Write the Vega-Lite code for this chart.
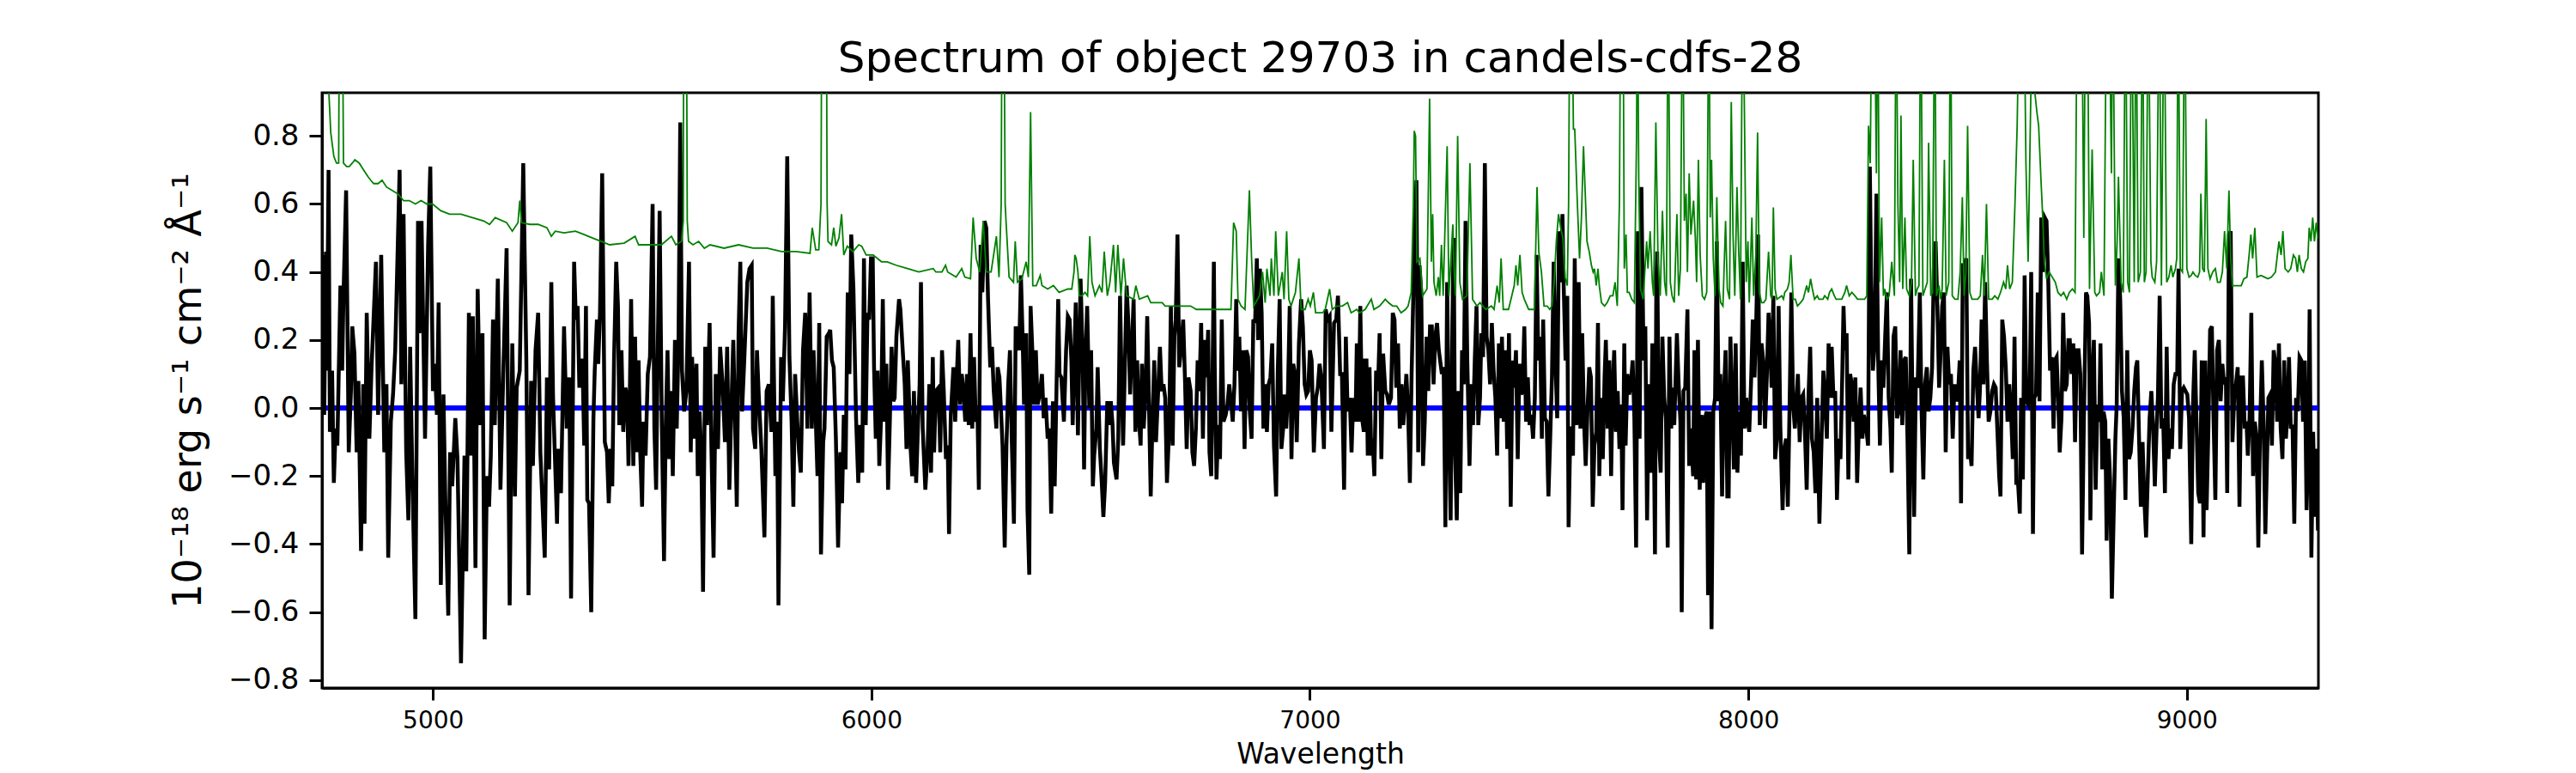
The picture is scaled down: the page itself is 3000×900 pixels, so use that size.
{
  "$schema": "https://vega.github.io/schema/vega-lite/v6.json",
  "width": 2325,
  "height": 693,
  "autosize": {"type": "none"},
  "padding": {"left": 375, "top": 108, "right": 300, "bottom": 99},
  "background": "white",
  "title": {"text": "Spectrum of object 29703 in candels-cdfs-28", "fontSize": 50, "fontWeight": "normal", "font": "DejaVu Sans", "color": "black", "anchor": "middle", "frame": "group", "offset": 14},
  "datasets": {
    "model": [{"w": 4740, "f": 0}, {"w": 9310, "f": 0}],
    "flux": [
      {"w":4749,"f":0.45},{"w":4752,"f":-0.02},{"w":4756,"f":0.46},{"w":4758,"f":0.11},{"w":4762,"f":0.70},{"w":4765,"f":-0.07},{"w":4770,"f":0.11},{"w":4774,"f":-0.22},{"w":4778,"f":-0.06},{"w":4782,"f":-0.11},{"w":4789,"f":0.36},{"w":4793,"f":0.11},{"w":4796,"f":0.33},{"w":4802,"f":0.64},{"w":4808,"f":-0.13},{"w":4813,"f":0.05},{"w":4816,"f":0.24},{"w":4821,"f":0.16},{"w":4826,"f":-0.13},{"w":4830,"f":0.08},{"w":4836,"f":-0.42},{"w":4841,"f":0.07},{"w":4844,"f":-0.34},{"w":4849,"f":0.28},{"w":4855,"f":-0.09},{"w":4860,"f":0.12},{"w":4870,"f":0.43},{"w":4875,"f":-0.02},{"w":4882,"f":0.45},{"w":4889,"f":-0.13},{"w":4894,"f":0.07},{"w":4898,"f":-0.44},{"w":4904,"f":-0.04},{"w":4909,"f":0.04},{"w":4914,"f":0.17},{"w":4924,"f":0.70},{"w":4928,"f":0.07},{"w":4933,"f":0.57},{"w":4939,"f":-0.13},{"w":4944,"f":-0.33},{"w":4948,"f":0.18},{"w":4953,"f":-0.20},{"w":4960,"f":-0.62},{"w":4966,"f":0.55},{"w":4969,"f":0.22},{"w":4974,"f":0.55},{"w":4982,"f":-0.09},{"w":4989,"f":0.48},{"w":4994,"f":0.71},{"w":5000,"f":0.05},{"w":5004,"f":0.13},{"w":5009,"f":-0.02},{"w":5013,"f":0.31},{"w":5018,"f":-0.52},{"w":5024,"f":0.04},{"w":5028,"f":-0.25},{"w":5035,"f":-0.61},{"w":5039,"f":-0.13},{"w":5044,"f":-0.23},{"w":5051,"f":-0.03},{"w":5056,"f":-0.15},{"w":5064,"f":-0.75},{"w":5072,"f":-0.14},{"w":5076,"f":-0.48},{"w":5082,"f":0.28},{"w":5087,"f":-0.14},{"w":5091,"f":0.27},{"w":5097,"f":-0.47},{"w":5102,"f":0.35},{"w":5108,"f":-0.05},{"w":5113,"f":0.22},{"w":5118,"f":-0.68},{"w":5123,"f":-0.20},{"w":5128,"f":-0.29},{"w":5132,"f":-0.14},{"w":5137,"f":0.26},{"w":5141,"f":-0.05},{"w":5148,"f":0.38},{"w":5154,"f":-0.24},{"w":5161,"f":0.13},{"w":5168,"f":0.47},{"w":5175,"f":-0.58},{"w":5181,"f":0.19},{"w":5187,"f":-0.26},{"w":5191,"f":0.06},{"w":5198,"f":0.11},{"w":5206,"f":0.72},{"w":5213,"f":0.14},{"w":5218,"f":-0.55},{"w":5224,"f":0.08},{"w":5228,"f":-0.17},{"w":5234,"f":0.17},{"w":5240,"f":0.28},{"w":5245,"f":-0.13},{"w":5255,"f":-0.44},{"w":5260,"f":0.09},{"w":5265,"f":-0.18},{"w":5270,"f":0.37},{"w":5274,"f":0.03},{"w":5283,"f":-0.34},{"w":5286,"f":-0.12},{"w":5292,"f":-0.25},{"w":5299,"f":0.24},{"w":5305,"f":-0.06},{"w":5311,"f":0.09},{"w":5315,"f":-0.56},{"w":5322,"f":0.43},
      {"w":5326,"f":0.26},{"w":5330,"f":0.30},{"w":5334,"f":0.06},{"w":5338,"f":0.14},{"w":5341,"f":0.14},{"w":5345,"f":-0.11},{"w":5349,"f":0.30},{"w":5352,"f":-0.27},{"w":5356,"f":-0.28},{"w":5361,"f":-0.60},{"w":5366,"f":-0.03},{"w":5369,"f":0.11},{"w":5374,"f":0.26},{"w":5377,"f":0.13},{"w":5381,"f":0.28},{"w":5386,"f":0.69},{"w":5392,"f":-0.10},{"w":5397,"f":-0.13},{"w":5401,"f":-0.28},{"w":5405,"f":-0.12},{"w":5409,"f":-0.23},{"w":5413,"f":0.14},{"w":5418,"f":0.43},{"w":5422,"f":0.30},{"w":5425,"f":-0.05},{"w":5430,"f":0.17},{"w":5434,"f":-0.07},{"w":5439,"f":0.06},{"w":5443,"f":0.03},{"w":5446,"f":-0.17},{"w":5449,"f":0.04},{"w":5452,"f":0.32},{"w":5457,"f":-0.17},{"w":5461,"f":0.21},{"w":5465,"f":-0.13},{"w":5469,"f":0.14},{"w":5473,"f":-0.14},{"w":5477,"f":-0.29},{"w":5480,"f":-0.04},{"w":5485,"f":-0.14},{"w":5490,"f":0.10},{"w":5495,"f":0.15},{"w":5501,"f":0.60},{"w":5505,"f":-0.06},{"w":5509,"f":-0.24},{"w":5513,"f":0.19},{"w":5517,"f":0.58},{"w":5522,"f":-0.05},{"w":5527,"f":-0.45},{"w":5531,"f":-0.05},{"w":5535,"f":0.17},{"w":5539,"f":-0.15},{"w":5543,"f":0.05},{"w":5547,"f":-0.20},{"w":5552,"f":0.20},{"w":5556,"f":-0.06},{"w":5560,"f":0.19},{"w":5564,"f":0.84},{"w":5568,"f":0.11},{"w":5573,"f":-0.01},{"w":5578,"f":0.05},{"w":5584,"f":0.43},{"w":5588,"f":-0.13},{"w":5591,"f":0.15},{"w":5597,"f":-0.09},{"w":5601,"f":0.13},{"w":5604,"f":-0.20},{"w":5608,"f":-0.01},{"w":5612,"f":-0.13},{"w":5616,"f":-0.54},{"w":5621,"f":0.18},{"w":5625,"f":-0.05},{"w":5631,"f":0.25},{"w":5635,"f":-0.11},{"w":5640,"f":-0.44},{"w":5645,"f":0.10},{"w":5650,"f":-0.12},{"w":5655,"f":0.18},{"w":5661,"f":0.06},{"w":5666,"f":-0.10},{"w":5671,"f":0.18},{"w":5676,"f":-0.24},{"w":5680,"f":-0.03},{"w":5685,"f":0.20},{"w":5689,"f":-0.04},{"w":5693,"f":-0.29},{"w":5697,"f":0.22},{"w":5701,"f":0.43},{"w":5705,"f":-0.01},{"w":5710,"f":0.14},{"w":5717,"f":0.37},{"w":5722,"f":0.41},{"w":5727,"f":0.42},{"w":5730,"f":-0.06},{"w":5735,"f":-0.12},{"w":5739,"f":0.17},{"w":5743,"f":0.04},{"w":5749,"f":-0.12},{"w":5756,"f":-0.38},{"w":5761,"f":0.05},{"w":5766,"f":0.07},{"w":5772,"f":-0.07},{"w":5775,"f":0.33},{"w":5781,"f":-0.20},{"w":5785,"f":-0.04},{"w":5788,"f":-0.58},{"w":5794,"f":0.15},{"w":5798,"f":0.02},{"w":5803,"f":0.24},{"w":5808,"f":0.74},{"w":5813,"f":0.15},{"w":5818,"f":-0.04},{"w":5822,"f":-0.29},{"w":5826,"f":0.10},{"w":5831,"f":-0.04},{"w":5835,"f":-0.13},{"w":5839,"f":-0.19},{"w":5844,"f":0.17},{"w":5849,"f":0.28},{"w":5854,"f":-0.06},{"w":5859,"f":0.34},{"w":5864,"f":-0.06},{"w":5868,"f":0.17},{"w":5873,"f":-0.03},{"w":5877,"f":-0.20},{"w":5881,"f":0.25},{"w":5885,"f":-0.43},
      {"w":5890,"f":-0.10},{"w":5893,"f":-0.06},{"w":5898,"f":0.21},{"w":5903,"f":0.22},{"w":5906,"f":0.23},{"w":5910,"f":0.14},{"w":5914,"f":0.12},{"w":5919,"f":-0.09},{"w":5924,"f":-0.41},{"w":5929,"f":-0.13},{"w":5933,"f":-0.28},{"w":5937,"f":-0.02},{"w":5941,"f":-0.18},{"w":5946,"f":0.34},{"w":5950,"f":0.10},{"w":5954,"f":0.51},{"w":5959,"f":0.35},{"w":5965,"f":-0.03},{"w":5970,"f":-0.22},{"w":5974,"f":-0.05},{"w":5979,"f":-0.19},{"w":5983,"f":0.44},{"w":5987,"f":-0.05},{"w":5991,"f":0.28},{"w":5995,"f":0.26},{"w":5999,"f":0.44},{"w":6003,"f":0.44},{"w":6006,"f":0.12},{"w":6010,"f":-0.09},{"w":6014,"f":0.11},{"w":6018,"f":-0.17},{"w":6022,"f":-0.03},{"w":6026,"f":0.32},{"w":6030,"f":-0.04},{"w":6034,"f":0.13},{"w":6038,"f":-0.24},{"w":6042,"f":-0.04},{"w":6046,"f":0.18},{"w":6050,"f":0.02},{"w":6053,"f":0.03},{"w":6057,"f":0.21},{"w":6063,"f":0.32},{"w":6066,"f":0.29},{"w":6070,"f":0.20},{"w":6076,"f":0.07},{"w":6080,"f":-0.12},{"w":6083,"f":0.14},{"w":6089,"f":-0.11},{"w":6093,"f":-0.20},{"w":6097,"f":0.05},{"w":6102,"f":-0.22},{"w":6106,"f":-0.06},{"w":6110,"f":0.07},{"w":6113,"f":0.37},{"w":6117,"f":-0.06},{"w":6123,"f":-0.24},{"w":6128,"f":-0.13},{"w":6132,"f":0.07},{"w":6136,"f":-0.19},{"w":6140,"f":0.15},{"w":6143,"f":-0.13},{"w":6147,"f":0.05},{"w":6153,"f":0.06},{"w":6157,"f":-0.13},{"w":6161,"f":0.17},{"w":6165,"f":0.05},{"w":6170,"f":-0.15},{"w":6174,"f":-0.11},{"w":6177,"f":-0.37},{"w":6181,"f":-0.02},{"w":6187,"f":0.12},{"w":6191,"f":-0.04},{"w":6194,"f":0.07},{"w":6198,"f":0.20},{"w":6202,"f":0.01},{"w":6206,"f":0.10},{"w":6210,"f":0.05},{"w":6214,"f":-0.04},{"w":6218,"f":0.10},{"w":6222,"f":-0.05},{"w":6226,"f":0.22},{"w":6230,"f":-0.06},{"w":6234,"f":0.15},{"w":6238,"f":-0.04},{"w":6242,"f":-0.02},{"w":6245,"f":-0.24},{"w":6249,"f":0.48},{"w":6253,"f":0.34},{"w":6258,"f":0.55},{"w":6262,"f":0.53},{"w":6266,"f":0.32},{"w":6271,"f":0.12},{"w":6275,"f":0.18},{"w":6279,"f":0.05},{"w":6285,"f":-0.06},{"w":6288,"f":0.12},{"w":6292,"f":0.09},{"w":6296,"f":-0.02},{"w":6299,"f":-0.11},{"w":6304,"f":-0.41},{"w":6308,"f":-0.11},{"w":6312,"f":0.07},{"w":6316,"f":0.17},{"w":6320,"f":-0.09},{"w":6325,"f":-0.34},{"w":6329,"f":0.24},{"w":6333,"f":0.20},{"w":6337,"f":0.17},{"w":6341,"f":0.39},{"w":6345,"f":0.20},{"w":6348,"f":0.01},{"w":6353,"f":0.22},{"w":6356,"f":-0.30},{"w":6360,"f":-0.49},{"w":6363,"f":0.30},{"w":6367,"f":0.17},{"w":6371,"f":0.01},{"w":6375,"f":0.17},{"w":6379,"f":0.01},{"w":6384,"f":0.04},{"w":6389,"f":0.10},{"w":6393,"f":-0.03},{"w":6397,"f":0.03},{"w":6402,"f":-0.09},{"w":6406,"f":-0.06},{"w":6410,"f":-0.31},{"w":6414,"f":0.02},{"w":6418,"f":-0.23},{"w":6422,"f":0.05},{"w":6426,"f":0.32},{"w":6429,"f":0.10},{"w":6433,"f":0.09},{"w":6439,"f":-0.04},{"w":6444,"f":0.17},{"w":6448,"f":0.27},{"w":6452,"f":0.26},{"w":6456,"f":0.14},{"w":6459,"f":-0.05},
      {"w":6466,"f":0.31},{"w":6471,"f":-0.08},{"w":6477,"f":0.38},{"w":6482,"f":0.14},{"w":6485,"f":-0.18},{"w":6488,"f":0.14},{"w":6492,"f":0.30},{"w":6497,"f":0.00},{"w":6501,"f":0.17},{"w":6505,"f":-0.23},{"w":6508,"f":-0.14},{"w":6513,"f":-0.06},{"w":6516,"f":0.12},{"w":6521,"f":-0.12},{"w":6525,"f":-0.21},{"w":6529,"f":-0.32},{"w":6533,"f":-0.22},{"w":6538,"f":0.02},{"w":6542,"f":-0.05},{"w":6546,"f":0.02},{"w":6550,"f":-0.05},{"w":6553,"f":-0.16},{"w":6559,"f":-0.21},{"w":6563,"f":-0.09},{"w":6567,"f":0.33},{"w":6570,"f":0.12},{"w":6574,"f":-0.11},{"w":6578,"f":0.12},{"w":6582,"f":0.36},{"w":6586,"f":0.25},{"w":6590,"f":0.04},{"w":6594,"f":0.18},{"w":6598,"f":0.32},{"w":6602,"f":-0.07},{"w":6606,"f":0.14},{"w":6610,"f":-0.03},{"w":6614,"f":-0.11},{"w":6617,"f":0.13},{"w":6621,"f":-0.06},{"w":6625,"f":0.04},{"w":6629,"f":0.27},{"w":6633,"f":0.01},{"w":6637,"f":-0.26},{"w":6641,"f":-0.04},{"w":6645,"f":0.14},{"w":6649,"f":-0.10},{"w":6654,"f":0.05},{"w":6658,"f":0.18},{"w":6662,"f":0.05},{"w":6666,"f":0.07},{"w":6670,"f":0.03},{"w":6674,"f":-0.22},{"w":6679,"f":-0.06},{"w":6683,"f":0.30},{"w":6687,"f":-0.11},{"w":6691,"f":0.21},{"w":6694,"f":0.26},{"w":6698,"f":0.51},{"w":6702,"f":0.12},{"w":6706,"f":0.17},{"w":6711,"f":0.26},{"w":6715,"f":0.09},{"w":6719,"f":-0.12},{"w":6723,"f":0.09},{"w":6728,"f":0.05},{"w":6732,"f":-0.13},{"w":6736,"f":-0.17},{"w":6740,"f":-0.06},{"w":6744,"f":0.14},{"w":6748,"f":0.05},{"w":6752,"f":0.25},{"w":6756,"f":-0.09},{"w":6760,"f":0.20},{"w":6764,"f":0.09},{"w":6768,"f":0.23},{"w":6771,"f":-0.13},{"w":6775,"f":-0.20},{"w":6778,"f":0.10},{"w":6781,"f":0.43},{"w":6783,"f":0.12},{"w":6787,"f":-0.21},{"w":6791,"f":-0.05},{"w":6795,"f":-0.15},{"w":6799,"f":0.26},{"w":6803,"f":-0.04},{"w":6808,"f":-0.02},{"w":6812,"f":0.01},{"w":6816,"f":0.07},{"w":6820,"f":0.02},{"w":6824,"f":-0.04},{"w":6828,"f":0.07},{"w":6832,"f":0.32},{"w":6835,"f":0.11},{"w":6839,"f":0.21},{"w":6843,"f":-0.01},{"w":6847,"f":0.17},{"w":6851,"f":-0.12},{"w":6855,"f":0.17},{"w":6859,"f":0.15},{"w":6863,"f":-0.01},{"w":6867,"f":-0.09},{"w":6871,"f":0.26},{"w":6875,"f":0.25},{"w":6879,"f":0.44},{"w":6882,"f":0.20},{"w":6886,"f":0.41},{"w":6890,"f":0.28},{"w":6894,"f":-0.06},{"w":6898,"f":0.07},{"w":6902,"f":-0.07},{"w":6906,"f":0.07},{"w":6910,"f":0.09},{"w":6914,"f":0.19},{"w":6918,"f":-0.11},{"w":6923,"f":-0.26},{"w":6927,"f":0.12},{"w":6931,"f":0.32},{"w":6935,"f":-0.12},{"w":6939,"f":-0.06},{"w":6942,"f":0.04},{"w":6946,"f":-0.06},{"w":6950,"f":0.05},{"w":6954,"f":0.30},{"w":6958,"f":-0.15},{"w":6962,"f":0.13},{"w":6966,"f":0.10},{"w":6970,"f":-0.10},{"w":6975,"f":0.19},{"w":6980,"f":0.32},{"w":6984,"f":0.24},{"w":6988,"f":0.07},{"w":6992,"f":0.04},{"w":6996,"f":0.05},{"w":7000,"f":0.17},{"w":7004,"f":0.14},{"w":7009,"f":-0.13},{"w":7014,"f":0.03},{"w":7018,"f":0.06},{"w":7022,"f":0.13},{"w":7026,"f":0.09},
      {"w":7032,"f":-0.12},{"w":7036,"f":0.29},{"w":7040,"f":0.26},{"w":7045,"f":0.27},{"w":7049,"f":-0.07},{"w":7055,"f":0.25},{"w":7060,"f":0.26},{"w":7064,"f":0.33},{"w":7069,"f":0.10},{"w":7073,"f":0.10},{"w":7078,"f":-0.24},{"w":7082,"f":0.21},{"w":7086,"f":-0.01},{"w":7091,"f":0.03},{"w":7095,"f":-0.13},{"w":7099,"f":0.03},{"w":7104,"f":-0.04},{"w":7107,"f":0.19},{"w":7111,"f":-0.04},{"w":7115,"f":0.30},{"w":7119,"f":-0.03},{"w":7123,"f":-0.07},{"w":7125,"f":0.14},{"w":7129,"f":0.14},{"w":7132,"f":-0.14},{"w":7136,"f":0.12},{"w":7140,"f":-0.14},{"w":7143,"f":-0.09},{"w":7147,"f":-0.20},{"w":7151,"f":0.11},{"w":7155,"f":0.05},{"w":7159,"f":0.22},{"w":7163,"f":-0.15},{"w":7167,"f":0.16},{"w":7172,"f":0.05},{"w":7176,"f":0.04},{"w":7180,"f":0.01},{"w":7185,"f":0.03},{"w":7189,"f":0.28},{"w":7193,"f":0.26},{"w":7197,"f":0.06},{"w":7201,"f":0.19},{"w":7205,"f":-0.06},{"w":7209,"f":0.07},{"w":7213,"f":-0.05},{"w":7217,"f":0.03},{"w":7220,"f":0.10},{"w":7224,"f":-0.01},{"w":7228,"f":-0.22},{"w":7232,"f":0.10},{"w":7237,"f":0.40},{"w":7243,"f":0.67},{"w":7247,"f":-0.13},{"w":7250,"f":0.42},{"w":7254,"f":0.34},{"w":7258,"f":-0.17},{"w":7262,"f":-0.04},{"w":7266,"f":0.21},{"w":7270,"f":0.05},{"w":7274,"f":0.24},{"w":7278,"f":0.24},{"w":7282,"f":0.07},{"w":7286,"f":0.21},{"w":7290,"f":0.25},{"w":7294,"f":0.17},{"w":7297,"f":0.14},{"w":7301,"f":0.10},{"w":7305,"f":0.12},{"w":7309,"f":-0.35},{"w":7313,"f":0.37},{"w":7317,"f":-0.06},{"w":7321,"f":-0.33},{"w":7325,"f":0.26},{"w":7328,"f":0.50},{"w":7331,"f":-0.13},{"w":7335,"f":-0.33},{"w":7339,"f":0.05},{"w":7343,"f":-0.25},{"w":7347,"f":0.17},{"w":7351,"f":0.07},{"w":7355,"f":0.55},{"w":7359,"f":0.14},{"w":7364,"f":-0.17},{"w":7368,"f":0.07},{"w":7372,"f":-0.05},{"w":7376,"f":0.14},{"w":7380,"f":0.30},{"w":7384,"f":-0.05},{"w":7388,"f":0.03},{"w":7391,"f":0.22},{"w":7395,"f":0.15},{"w":7399,"f":0.72},{"w":7403,"f":0.21},{"w":7407,"f":0.17},{"w":7411,"f":0.07},{"w":7415,"f":0.25},{"w":7419,"f":0.11},{"w":7423,"f":0.03},{"w":7427,"f":-0.14},{"w":7431,"f":0.19},{"w":7435,"f":-0.03},{"w":7438,"f":0.21},{"w":7442,"f":-0.04},{"w":7446,"f":0.17},{"w":7450,"f":-0.12},{"w":7454,"f":0.22},{"w":7458,"f":-0.29},{"w":7462,"f":0.14},{"w":7466,"f":0.06},{"w":7470,"f":0.17},{"w":7474,"f":-0.15},{"w":7478,"f":0.13},{"w":7482,"f":0.04},{"w":7485,"f":0.05},{"w":7489,"f":0.24},{"w":7493,"f":-0.04},{"w":7497,"f":0.09},{"w":7501,"f":-0.05},{"w":7505,"f":-0.02},{"w":7509,"f":-0.09},{"w":7513,"f":0.03},{"w":7517,"f":0.45},{"w":7521,"f":0.14},{"w":7525,"f":0.21},{"w":7529,"f":-0.09},{"w":7532,"f":0.26},{"w":7536,"f":-0.03},{"w":7540,"f":-0.04},{"w":7544,"f":-0.26},{"w":7548,"f":-0.09},{"w":7552,"f":0.09},{"w":7556,"f":0.43},{"w":7560,"f":0.14},{"w":7564,"f":-0.03},{"w":7568,"f":0.52},{"w":7572,"f":0.37},{"w":7576,"f":0.57},{"w":7579,"f":0.35},{"w":7583,"f":0.14},{"w":7587,"f":0.33},{"w":7590,"f":-0.35},{"w":7594,"f":-0.06},
      {"w":7597,"f":-0.06},{"w":7600,"f":-0.14},{"w":7604,"f":0.44},{"w":7608,"f":-0.05},{"w":7613,"f":0.37},{"w":7617,"f":-0.06},{"w":7621,"f":0.22},{"w":7625,"f":-0.03},{"w":7629,"f":-0.17},{"w":7633,"f":-0.01},{"w":7637,"f":0.12},{"w":7641,"f":0.09},{"w":7645,"f":-0.29},{"w":7649,"f":-0.11},{"w":7653,"f":-0.07},{"w":7657,"f":0.25},{"w":7660,"f":-0.20},{"w":7664,"f":0.03},{"w":7668,"f":-0.15},{"w":7672,"f":0.09},{"w":7675,"f":0.20},{"w":7679,"f":-0.06},{"w":7683,"f":0.14},{"w":7687,"f":-0.20},{"w":7690,"f":0.03},{"w":7694,"f":0.17},{"w":7698,"f":-0.07},{"w":7702,"f":0.05},{"w":7706,"f":-0.12},{"w":7710,"f":0.01},{"w":7713,"f":-0.30},{"w":7717,"f":0.19},{"w":7720,"f":-0.11},{"w":7724,"f":0.10},{"w":7728,"f":0.04},{"w":7732,"f":0.07},{"w":7736,"f":0.14},{"w":7740,"f":-0.03},{"w":7744,"f":-0.41},{"w":7748,"f":0.52},{"w":7752,"f":-0.09},{"w":7756,"f":0.65},{"w":7761,"f":0.14},{"w":7765,"f":0.24},{"w":7769,"f":-0.33},{"w":7773,"f":0.07},{"w":7777,"f":-0.19},{"w":7781,"f":0.19},{"w":7784,"f":-0.02},{"w":7787,"f":-0.43},{"w":7790,"f":0.36},{"w":7792,"f":0.46},{"w":7796,"f":-0.09},{"w":7800,"f":-0.19},{"w":7804,"f":0.21},{"w":7808,"f":0.03},{"w":7812,"f":-0.03},{"w":7816,"f":-0.41},{"w":7820,"f":0.21},{"w":7824,"f":-0.06},{"w":7828,"f":0.06},{"w":7831,"f":-0.05},{"w":7837,"f":0.22},{"w":7841,"f":0.07},{"w":7845,"f":-0.04},{"w":7848,"f":-0.60},{"w":7852,"f":0.05},{"w":7856,"f":0.06},{"w":7861,"f":0.29},{"w":7865,"f":-0.17},{"w":7869,"f":-0.06},{"w":7874,"f":-0.20},{"w":7877,"f":0.17},{"w":7881,"f":-0.21},{"w":7885,"f":0.20},{"w":7889,"f":-0.24},{"w":7893,"f":-0.02},{"w":7897,"f":-0.22},{"w":7901,"f":-0.03},{"w":7905,"f":-0.01},{"w":7908,"f":-0.55},{"w":7912,"f":-0.01},{"w":7916,"f":-0.65},{"w":7920,"f":-0.01},{"w":7924,"f":0.03},{"w":7928,"f":0.49},{"w":7932,"f":0.02},{"w":7936,"f":0.10},{"w":7940,"f":-0.26},{"w":7944,"f":0.03},{"w":7948,"f":0.17},{"w":7952,"f":-0.26},{"w":7955,"f":-0.26},{"w":7959,"f":0.21},{"w":7963,"f":0.02},{"w":7967,"f":-0.18},{"w":7971,"f":0.19},{"w":7975,"f":-0.19},{"w":7979,"f":-0.01},{"w":7983,"f":-0.14},{"w":7987,"f":0.43},{"w":7991,"f":-0.06},{"w":7995,"f":0.03},{"w":7999,"f":-0.04},{"w":8002,"f":-0.07},{"w":8006,"f":0.07},{"w":8010,"f":0.26},{"w":8014,"f":0.09},{"w":8018,"f":0.26},{"w":8022,"f":0.51},{"w":8026,"f":-0.05},{"w":8030,"f":0.19},{"w":8034,"f":0.14},{"w":8038,"f":-0.06},{"w":8042,"f":0.09},{"w":8046,"f":0.28},{"w":8049,"f":0.21},{"w":8053,"f":0.06},{"w":8057,"f":0.33},{"w":8061,"f":-0.15},{"w":8065,"f":-0.09},{"w":8069,"f":0.30},{"w":8073,"f":-0.06},{"w":8078,"f":-0.30},{"w":8082,"f":-0.12},{"w":8086,"f":-0.09},{"w":8090,"f":-0.29},{"w":8094,"f":0.01},{"w":8098,"f":0.34},{"w":8102,"f":0.01},{"w":8106,"f":-0.06},{"w":8110,"f":0.03},{"w":8113,"f":0.10},{"w":8117,"f":-0.10},{"w":8121,"f":0.03},{"w":8125,"f":0.04},{"w":8129,"f":-0.07},{"w":8133,"f":-0.24},{"w":8137,"f":0.03},{"w":8141,"f":0.18},{"w":8145,"f":-0.09},{"w":8149,"f":-0.13},{"w":8153,"f":-0.25},{"w":8157,"f":0.03},{"w":8162,"f":-0.34},
      {"w":8167,"f":-0.09},{"w":8171,"f":0.11},{"w":8175,"f":0.03},{"w":8179,"f":-0.09},{"w":8183,"f":0.19},{"w":8186,"f":0.03},{"w":8190,"f":0.18},{"w":8194,"f":0.03},{"w":8198,"f":0.05},{"w":8202,"f":-0.27},{"w":8206,"f":-0.09},{"w":8210,"f":-0.15},{"w":8214,"f":0.09},{"w":8217,"f":0.30},{"w":8220,"f":0.17},{"w":8224,"f":0.22},{"w":8228,"f":-0.21},{"w":8232,"f":0.10},{"w":8236,"f":0.07},{"w":8240,"f":-0.04},{"w":8244,"f":0.09},{"w":8248,"f":-0.22},{"w":8252,"f":-0.05},{"w":8256,"f":0.06},{"w":8260,"f":-0.09},{"w":8263,"f":-0.02},{"w":8267,"f":-0.04},{"w":8273,"f":-0.11},{"w":8277,"f":0.71},{"w":8280,"f":0.37},{"w":8284,"f":0.11},{"w":8288,"f":0.19},{"w":8292,"f":0.63},{"w":8296,"f":0.14},{"w":8300,"f":-0.11},{"w":8304,"f":0.14},{"w":8308,"f":0.06},{"w":8312,"f":0.21},{"w":8316,"f":0.34},{"w":8320,"f":0.03},{"w":8324,"f":-0.06},{"w":8327,"f":-0.19},{"w":8331,"f":0.21},{"w":8335,"f":0.24},{"w":8339,"f":-0.03},{"w":8343,"f":-0.01},{"w":8347,"f":0.17},{"w":8351,"f":-0.05},{"w":8355,"f":0.14},{"w":8359,"f":0.15},{"w":8363,"f":-0.10},{"w":8367,"f":-0.43},{"w":8371,"f":0.38},{"w":8374,"f":0.03},{"w":8378,"f":-0.32},{"w":8382,"f":0.09},{"w":8386,"f":0.06},{"w":8391,"f":0.34},{"w":8395,"f":-0.01},{"w":8399,"f":-0.21},{"w":8403,"f":0.07},{"w":8407,"f":0.12},{"w":8411,"f":-0.01},{"w":8415,"f":0.03},{"w":8419,"f":0.12},{"w":8423,"f":0.41},{"w":8427,"f":0.49},{"w":8431,"f":0.30},{"w":8435,"f":0.06},{"w":8438,"f":0.15},{"w":8442,"f":0.30},{"w":8446,"f":0.34},{"w":8450,"f":-0.13},{"w":8454,"f":0.18},{"w":8458,"f":0.07},{"w":8462,"f":0.10},{"w":8466,"f":-0.09},{"w":8470,"f":0.07},{"w":8474,"f":0.02},{"w":8478,"f":0.04},{"w":8482,"f":0.14},{"w":8485,"f":-0.28},{"w":8489,"f":0.42},{"w":8493,"f":0.42},{"w":8497,"f":0.44},{"w":8501,"f":-0.15},{"w":8505,"f":-0.12},{"w":8509,"f":-0.17},{"w":8513,"f":0.11},{"w":8517,"f":0.18},{"w":8521,"f":0.07},{"w":8525,"f":-0.03},{"w":8528,"f":0.05},{"w":8532,"f":0.26},{"w":8536,"f":0.07},{"w":8540,"f":0.37},{"w":8544,"f":0.14},{"w":8548,"f":-0.04},{"w":8552,"f":-0.01},{"w":8556,"f":0.05},{"w":8560,"f":0.07},{"w":8564,"f":0.06},{"w":8568,"f":-0.07},{"w":8572,"f":-0.20},{"w":8575,"f":-0.26},{"w":8579,"f":0.26},{"w":8583,"f":0.21},{"w":8587,"f":0.12},{"w":8591,"f":-0.04},{"w":8595,"f":0.07},{"w":8599,"f":-0.01},{"w":8603,"f":-0.15},{"w":8607,"f":0.21},{"w":8611,"f":-0.22},{"w":8615,"f":-0.22},{"w":8619,"f":-0.31},{"w":8622,"f":0.03},{"w":8626,"f":-0.21},{"w":8630,"f":0.39},{"w":8634,"f":0.02},{"w":8638,"f":0.01},{"w":8642,"f":0.07},{"w":8645,"f":0.40},{"w":8649,"f":-0.37},{"w":8652,"f":0.03},{"w":8656,"f":0.04},{"w":8660,"f":0.34},{"w":8664,"f":0.02},{"w":8668,"f":0.56},{"w":8672,"f":0.40},{"w":8676,"f":0.56},{"w":8680,"f":0.55},{"w":8684,"f":0.37},{"w":8688,"f":0.11},{"w":8692,"f":0.15},{"w":8696,"f":-0.06},{"w":8699,"f":0.14},{"w":8703,"f":0.15},{"w":8707,"f":0.01},{"w":8710,"f":-0.13},{"w":8714,"f":-0.03},{"w":8718,"f":0.28},{"w":8722,"f":0.05},{"w":8726,"f":0.07},{"w":8730,"f":0.20},
      {"w":8733,"f":0.20},{"w":8737,"f":0.10},{"w":8741,"f":0.19},{"w":8745,"f":-0.10},{"w":8749,"f":0.17},{"w":8753,"f":0.17},{"w":8757,"f":0.10},{"w":8761,"f":-0.43},{"w":8765,"f":-0.05},{"w":8770,"f":0.34},{"w":8773,"f":0.33},{"w":8777,"f":0.25},{"w":8780,"f":-0.33},{"w":8784,"f":0.09},{"w":8788,"f":0.20},{"w":8792,"f":-0.24},{"w":8796,"f":0.01},{"w":8800,"f":-0.04},{"w":8803,"f":0.19},{"w":8807,"f":-0.18},{"w":8810,"f":-0.01},{"w":8814,"f":-0.04},{"w":8817,"f":-0.39},{"w":8821,"f":-0.09},{"w":8825,"f":-0.21},{"w":8829,"f":-0.56},{"w":8833,"f":-0.32},{"w":8837,"f":-0.09},{"w":8840,"f":0.01},{"w":8844,"f":0.44},{"w":8848,"f":0.32},{"w":8852,"f":0.05},{"w":8856,"f":-0.03},{"w":8860,"f":-0.27},{"w":8864,"f":0.17},{"w":8868,"f":-0.15},{"w":8872,"f":-0.13},{"w":8876,"f":-0.06},{"w":8880,"f":0.05},{"w":8884,"f":0.12},{"w":8887,"f":0.14},{"w":8891,"f":-0.09},{"w":8895,"f":-0.29},{"w":8899,"f":-0.10},{"w":8903,"f":-0.27},{"w":8907,"f":-0.38},{"w":8911,"f":-0.20},{"w":8915,"f":-0.03},{"w":8919,"f":0.05},{"w":8923,"f":-0.06},{"w":8927,"f":-0.23},{"w":8931,"f":-0.06},{"w":8934,"f":0.03},{"w":8938,"f":0.33},{"w":8942,"f":-0.06},{"w":8946,"f":-0.03},{"w":8950,"f":-0.25},{"w":8954,"f":0.18},{"w":8958,"f":-0.15},{"w":8962,"f":-0.06},{"w":8966,"f":-0.12},{"w":8970,"f":0.07},{"w":8974,"f":0.10},{"w":8978,"f":0.10},{"w":8981,"f":0.41},{"w":8985,"f":-0.12},{"w":8989,"f":0.05},{"w":8993,"f":0.06},{"w":8997,"f":0.05},{"w":9001,"f":0.04},{"w":9005,"f":-0.03},{"w":9010,"f":-0.40},{"w":9014,"f":0.01},{"w":9018,"f":0.17},{"w":9022,"f":-0.04},{"w":9026,"f":-0.25},{"w":9030,"f":-0.28},{"w":9034,"f":0.14},{"w":9038,"f":-0.38},{"w":9042,"f":0.14},{"w":9045,"f":-0.30},{"w":9049,"f":-0.07},{"w":9053,"f":0.23},{"w":9057,"f":0.24},{"w":9061,"f":-0.04},{"w":9065,"f":-0.27},{"w":9069,"f":0.17},{"w":9073,"f":0.20},{"w":9077,"f":0.02},{"w":9081,"f":0.13},{"w":9085,"f":0.07},{"w":9089,"f":0.09},{"w":9092,"f":-0.25},{"w":9096,"f":0.51},{"w":9100,"f":0.52},{"w":9104,"f":-0.10},{"w":9108,"f":0.03},{"w":9112,"f":0.07},{"w":9116,"f":0.12},{"w":9120,"f":-0.29},{"w":9124,"f":0.09},{"w":9128,"f":0.09},{"w":9132,"f":-0.06},{"w":9136,"f":-0.04},{"w":9139,"f":-0.14},{"w":9143,"f":-0.03},{"w":9147,"f":0.28},{"w":9151,"f":-0.20},{"w":9155,"f":-0.04},{"w":9159,"f":-0.09},{"w":9163,"f":-0.41},{"w":9167,"f":-0.06},{"w":9171,"f":0.14},{"w":9175,"f":-0.04},{"w":9179,"f":-0.37},{"w":9183,"f":-0.14},{"w":9186,"f":0.03},{"w":9190,"f":0.04},{"w":9194,"f":-0.11},{"w":9198,"f":0.17},{"w":9202,"f":0.13},{"w":9206,"f":-0.04},{"w":9210,"f":0.19},{"w":9214,"f":-0.06},{"w":9218,"f":-0.15},{"w":9222,"f":0.14},{"w":9226,"f":-0.09},{"w":9230,"f":0.01},{"w":9233,"f":0.15},{"w":9237,"f":-0.06},{"w":9241,"f":-0.05},{"w":9245,"f":-0.34},{"w":9249,"f":0.03},{"w":9253,"f":-0.01},{"w":9257,"f":0.15},{"w":9261,"f":0.14},{"w":9265,"f":-0.04},{"w":9269,"f":0.14},{"w":9273,"f":-0.30},{"w":9277,"f":-0.11},{"w":9280,"f":0.29},{"w":9284,"f":-0.44},{"w":9288,"f":-0.07},{"w":9292,"f":-0.32},{"w":9296,"f":-0.12},{"w":9299,"f":-0.36}
    ],
    "sky": [
      {"w":4747,"f":1.3},{"w":4760,"f":1.0},{"w":4767,"f":0.81},{"w":4774,"f":0.74},{"w":4780,"f":0.72},{"w":4785,"f":0.72},{"w":4787,"f":1.3},{"w":4793,"f":1.3},{"w":4796,"f":0.72},{"w":4803,"f":0.71},{"w":4809,"f":0.71},{"w":4816,"f":0.72},{"w":4822,"f":0.73},{"w":4832,"f":0.72},{"w":4842,"f":0.70},{"w":4852,"f":0.68},{"w":4858,"f":0.67},{"w":4865,"f":0.66},{"w":4875,"f":0.66},{"w":4884,"f":0.67},{"w":4894,"f":0.65},{"w":4907,"f":0.64},{"w":4920,"f":0.63},{"w":4933,"f":0.61},{"w":4946,"f":0.61},{"w":4960,"f":0.60},{"w":4973,"f":0.61},{"w":4986,"f":0.60},{"w":4999,"f":0.60},{"w":5018,"f":0.58},{"w":5038,"f":0.57},{"w":5064,"f":0.57},{"w":5090,"f":0.56},{"w":5116,"f":0.55},{"w":5129,"f":0.54},{"w":5142,"f":0.56},{"w":5168,"f":0.545},{"w":5181,"f":0.52},{"w":5194,"f":0.545},{"w":5198,"f":0.61},{"w":5202,"f":0.545},{"w":5221,"f":0.54},{"w":5240,"f":0.54},{"w":5260,"f":0.53},{"w":5270,"f":0.505},{"w":5279,"f":0.52},{"w":5299,"f":0.515},{"w":5325,"f":0.52},
      {"w":5345,"f":0.51},{"w":5364,"f":0.50},{"w":5384,"f":0.49},{"w":5403,"f":0.48},{"w":5436,"f":0.485},{"w":5461,"f":0.505},{"w":5469,"f":0.48},{"w":5501,"f":0.48},{"w":5521,"f":0.48},{"w":5544,"f":0.505},{"w":5554,"f":0.48},{"w":5567,"f":0.49},{"w":5571,"f":0.55},{"w":5572,"f":1.3},{"w":5578,"f":1.3},{"w":5580,"f":0.55},{"w":5583,"f":0.49},{"w":5593,"f":0.48},{"w":5606,"f":0.49},{"w":5619,"f":0.47},{"w":5632,"f":0.48},{"w":5664,"f":0.47},{"w":5697,"f":0.48},{"w":5730,"f":0.47},{"w":5762,"f":0.47},{"w":5795,"f":0.46},{"w":5828,"f":0.46},{"w":5860,"f":0.455},{"w":5865,"f":0.53},{"w":5873,"f":0.465},{"w":5880,"f":0.465},{"w":5885,"f":0.6},{"w":5887,"f":1.3},
      {"w":5897,"f":1.3},{"w":5899,"f":0.60},{"w":5901,"f":0.49},{"w":5909,"f":0.48},{"w":5914,"f":0.53},{"w":5919,"f":0.476},{"w":5926,"f":0.50},{"w":5932,"f":0.57},{"w":5937,"f":0.45},{"w":5945,"f":0.476},{"w":5958,"f":0.46},{"w":5971,"f":0.48},{"w":5978,"f":0.476},{"w":5988,"f":0.45},{"w":6004,"f":0.45},{"w":6023,"f":0.43},{"w":6036,"f":0.43},{"w":6056,"f":0.42},{"w":6082,"f":0.41},{"w":6108,"f":0.40},{"w":6141,"f":0.41},{"w":6147,"f":0.40},{"w":6161,"f":0.40},{"w":6169,"f":0.42},{"w":6174,"f":0.40},{"w":6193,"f":0.385},{"w":6206,"f":0.41},{"w":6213,"f":0.385},{"w":6226,"f":0.38},{"w":6232,"f":0.56},{"w":6239,"f":0.44},{"w":6247,"f":0.40},{"w":6255,"f":0.55},{"w":6262,"f":0.40},{"w":6273,"f":0.40},{"w":6285,"f":0.505},{"w":6291,"f":0.385},{"w":6296,"f":0.6},{"w":6298,"f":1.3},{"w":6302,"f":1.3},{"w":6305,"f":0.6},{"w":6307,"f":0.55},{"w":6314,"f":0.385},{"w":6324,"f":0.37},{"w":6328,"f":0.49},{"w":6333,"f":0.37},{"w":6343,"f":0.38},{"w":6353,"f":0.43},{"w":6358,"f":0.385},{"w":6363,"f":0.87},{"w":6368,"f":0.36},{"w":6376,"f":0.36},{"w":6385,"f":0.39},{"w":6389,"f":0.36},{"w":6402,"f":0.35},{"w":6415,"f":0.36},{"w":6428,"f":0.34},{"w":6448,"f":0.35},{"w":6457,"f":0.35},
      {"w":6462,"f":0.40},{"w":6464,"f":0.45},{"w":6467,"f":0.44},{"w":6471,"f":0.40},{"w":6474,"f":0.33},{"w":6480,"f":0.33},{"w":6487,"f":0.34},{"w":6493,"f":0.33},{"w":6498,"f":0.505},{"w":6503,"f":0.37},{"w":6510,"f":0.33},{"w":6520,"f":0.36},{"w":6526,"f":0.34},{"w":6531,"f":0.46},{"w":6538,"f":0.33},{"w":6544,"f":0.37},{"w":6552,"f":0.48},{"w":6557,"f":0.34},{"w":6562,"f":0.48},{"w":6569,"f":0.33},{"w":6575,"f":0.44},{"w":6582,"f":0.33},{"w":6598,"f":0.32},{"w":6603,"f":0.36},{"w":6611,"f":0.32},{"w":6630,"f":0.33},{"w":6637,"f":0.31},{"w":6663,"f":0.31},{"w":6670,"f":0.30},{"w":6689,"f":0.30},{"w":6715,"f":0.30},{"w":6728,"f":0.30},{"w":6741,"f":0.29},{"w":6768,"f":0.29},{"w":6794,"f":0.29},{"w":6820,"f":0.29},{"w":6826,"f":0.545},{"w":6832,"f":0.52},{"w":6836,"f":0.32},{"w":6843,"f":0.30},{"w":6852,"f":0.29},{"w":6862,"f":0.64},{"w":6867,"f":0.44},{"w":6872,"f":0.30},{"w":6885,"f":0.33},{"w":6892,"f":0.40},{"w":6898,"f":0.31},{"w":6902,"f":0.41},{"w":6909,"f":0.33},{"w":6912,"f":0.44},{"w":6918,"f":0.33},{"w":6922,"f":0.52},{"w":6928,"f":0.33},{"w":6937,"f":0.40},{"w":6941,"f":0.32},{"w":6947,"f":0.52},{"w":6952,"f":0.32},{"w":6957,"f":0.30},{"w":6967,"f":0.34},{"w":6975,"f":0.44},{"w":6980,"f":0.29},{"w":6989,"f":0.29},{"w":6996,"f":0.32},{"w":7001,"f":0.30},{"w":7008,"f":0.34},{"w":7013,"f":0.28},{"w":7029,"f":0.28},
      {"w":7035,"f":0.29},{"w":7045,"f":0.35},{"w":7051,"f":0.29},{"w":7061,"f":0.30},{"w":7074,"f":0.30},{"w":7086,"f":0.31},{"w":7094,"f":0.28},{"w":7107,"f":0.29},{"w":7113,"f":0.28},{"w":7126,"f":0.29},{"w":7140,"f":0.32},{"w":7146,"f":0.29},{"w":7159,"f":0.30},{"w":7172,"f":0.32},{"w":7179,"f":0.31},{"w":7189,"f":0.30},{"w":7198,"f":0.30},{"w":7208,"f":0.28},{"w":7218,"f":0.29},{"w":7224,"f":0.30},{"w":7231,"f":0.34},{"w":7236,"f":0.60},{"w":7238,"f":0.815},{"w":7241,"f":0.80},{"w":7244,"f":0.43},{"w":7251,"f":0.44},{"w":7257,"f":0.33},{"w":7267,"f":0.35},{"w":7273,"f":0.91},{"w":7277,"f":0.43},{"w":7280,"f":0.57},{"w":7283,"f":0.37},{"w":7288,"f":0.33},{"w":7293,"f":0.385},{"w":7296,"f":0.33},{"w":7300,"f":0.48},{"w":7304,"f":0.33},{"w":7313,"f":0.77},{"w":7317,"f":0.33},{"w":7326,"f":0.54},{"w":7329,"f":0.40},{"w":7332,"f":0.33},{"w":7337,"f":0.80},{"w":7342,"f":0.37},{"w":7348,"f":0.32},{"w":7358,"f":0.33},{"w":7365,"f":0.72},{"w":7371,"f":0.32},{"w":7381,"f":0.30},{"w":7388,"f":0.31},{"w":7401,"f":0.29},{"w":7414,"f":0.30},{"w":7420,"f":0.29},{"w":7427,"f":0.36},{"w":7432,"f":0.31},{"w":7436,"f":0.44},{"w":7441,"f":0.29},{"w":7453,"f":0.29},{"w":7466,"f":0.36},{"w":7470,"f":0.42},{"w":7474,"f":0.36},{"w":7479,"f":0.45},{"w":7484,"f":0.34},{"w":7489,"f":0.32},{"w":7499,"f":0.29},{"w":7512,"f":0.29},{"w":7518,"f":0.65},{"w":7522,"f":0.46},{"w":7528,"f":0.40},{"w":7534,"f":0.30},{"w":7541,"f":0.30},{"w":7547,"f":0.29},{"w":7552,"f":0.30},{"w":7557,"f":0.37},{"w":7562,"f":0.49},{"w":7567,"f":0.57},{"w":7572,"f":0.53},{"w":7577,"f":0.50},{"w":7582,"f":0.385},{"w":7587,"f":0.36},{"w":7590,"f":0.60},{"w":7593,"f":1.3},
      {"w":7597,"f":1.3},{"w":7601,"f":0.82},{"w":7604,"f":0.82},{"w":7610,"f":0.60},{"w":7615,"f":0.44},{"w":7619,"f":0.55},{"w":7624,"f":0.77},{"w":7628,"f":0.63},{"w":7632,"f":0.49},{"w":7637,"f":0.46},{"w":7642,"f":0.42},{"w":7646,"f":0.40},{"w":7649,"f":0.41},{"w":7653,"f":0.36},{"w":7657,"f":0.41},{"w":7660,"f":0.36},{"w":7665,"f":0.31},{"w":7672,"f":0.30},{"w":7678,"f":0.31},{"w":7685,"f":0.33},{"w":7691,"f":0.33},{"w":7696,"f":0.37},{"w":7701,"f":0.30},{"w":7706,"f":0.61},{"w":7709,"f":1.3},{"w":7714,"f":1.3},{"w":7717,"f":0.41},{"w":7721,"f":0.51},{"w":7724,"f":0.34},{"w":7728,"f":0.34},{"w":7734,"f":0.32},{"w":7740,"f":0.31},{"w":7745,"f":0.80},{"w":7747,"f":1.3},{"w":7750,"f":0.67},{"w":7754,"f":0.35},{"w":7760,"f":0.32},{"w":7768,"f":0.49},{"w":7771,"f":0.41},{"w":7776,"f":0.52},{"w":7781,"f":0.37},{"w":7784,"f":0.33},{"w":7789,"f":0.84},{"w":7794,"f":0.43},{"w":7799,"f":0.33},{"w":7804,"f":0.58},{"w":7809,"f":0.37},{"w":7813,"f":0.33},{"w":7817,"f":1.3},{"w":7822,"f":0.37},{"w":7826,"f":0.33},{"w":7831,"f":0.31},{"w":7837,"f":0.57},{"w":7841,"f":0.33},{"w":7845,"f":0.41},{"w":7850,"f":1.3},{"w":7854,"f":0.55},{"w":7858,"f":0.63},{"w":7861,"f":0.40},{"w":7865,"f":0.69},{"w":7869,"f":0.51},{"w":7875,"f":0.61},{"w":7879,"f":0.50},{"w":7882,"f":0.37},{"w":7886,"f":0.73},{"w":7890,"f":0.45},{"w":7895,"f":0.33},{"w":7900,"f":0.32},{"w":7905,"f":0.34},{"w":7910,"f":1.3},{"w":7913,"f":0.56},{"w":7916,"f":0.73},{"w":7920,"f":0.44},{"w":7924,"f":0.33},{"w":7928,"f":0.62},{"w":7933,"f":0.35},{"w":7937,"f":0.31},{"w":7942,"f":0.30},{"w":7948,"f":0.55},{"w":7952,"f":0.35},{"w":7957,"f":0.32},{"w":7961,"f":0.90},{"w":7965,"f":0.51},{"w":7969,"f":0.33},{"w":7974,"f":0.65},{"w":7978,"f":0.46},{"w":7982,"f":0.32},{"w":7987,"f":1.3},{"w":7991,"f":0.87},{"w":7995,"f":0.37},{"w":7999,"f":0.49},{"w":8002,"f":0.31},{"w":8008,"f":0.56},{"w":8012,"f":0.33},{"w":8017,"f":0.45},{"w":8021,"f":0.81},{"w":8025,"f":0.34},{"w":8030,"f":0.31},{"w":8035,"f":0.31},{"w":8040,"f":0.32},{"w":8046,"f":0.46},{"w":8051,"f":0.33},{"w":8054,"f":0.32},{"w":8057,"f":0.59},{"w":8061,"f":0.35},{"w":8065,"f":0.32},{"w":8076,"f":0.33},{"w":8080,"f":0.32},{"w":8083,"f":0.34},{"w":8089,"f":0.35},{"w":8093,"f":0.37},{"w":8097,"f":0.45},{"w":8102,"f":0.32},{"w":8107,"f":0.32},{"w":8112,"f":0.30},{"w":8119,"f":0.31},{"w":8125,"f":0.32},{"w":8133,"f":0.36},{"w":8137,"f":0.34},{"w":8142,"f":0.38},{"w":8146,"f":0.35},{"w":8151,"f":0.32},{"w":8157,"f":0.33},{"w":8161,"f":0.32},
      {"w":8165,"f":0.32},{"w":8170,"f":0.32},{"w":8174,"f":0.33},{"w":8181,"f":0.32},{"w":8185,"f":0.34},{"w":8190,"f":0.35},{"w":8196,"f":0.33},{"w":8200,"f":0.32},{"w":8207,"f":0.32},{"w":8213,"f":0.32},{"w":8220,"f":0.34},{"w":8224,"f":0.36},{"w":8230,"f":0.33},{"w":8236,"f":0.34},{"w":8243,"f":0.33},{"w":8249,"f":0.32},{"w":8256,"f":0.32},{"w":8265,"f":0.32},{"w":8270,"f":0.33},{"w":8274,"f":0.83},{"w":8278,"f":0.72},{"w":8282,"f":1.3},{"w":8287,"f":1.3},{"w":8292,"f":0.69},{"w":8295,"f":1.3},{"w":8299,"f":0.37},{"w":8304,"f":0.56},{"w":8308,"f":0.33},{"w":8311,"f":0.35},{"w":8316,"f":0.32},{"w":8321,"f":0.33},{"w":8327,"f":0.43},{"w":8333,"f":0.33},{"w":8337,"f":1.3},{"w":8341,"f":0.60},{"w":8345,"f":0.37},{"w":8348,"f":0.86},{"w":8352,"f":0.35},{"w":8357,"f":0.56},{"w":8361,"f":0.35},{"w":8367,"f":0.33},{"w":8372,"f":0.37},{"w":8376,"f":0.73},{"w":8381,"f":0.33},{"w":8385,"f":0.35},{"w":8389,"f":0.36},{"w":8393,"f":1.3},{"w":8398,"f":0.33},{"w":8403,"f":0.35},{"w":8408,"f":0.37},{"w":8411,"f":0.78},{"w":8416,"f":0.33},{"w":8420,"f":0.34},{"w":8425,"f":1.3},{"w":8429,"f":0.33},{"w":8435,"f":0.36},{"w":8438,"f":0.32},{"w":8442,"f":0.35},{"w":8447,"f":0.73},{"w":8451,"f":0.33},{"w":8457,"f":0.37},{"w":8461,"f":1.3},{"w":8465,"f":0.33},{"w":8471,"f":0.32},{"w":8478,"f":0.32},{"w":8483,"f":0.40},{"w":8488,"f":0.62},{"w":8492,"f":0.33},{"w":8496,"f":0.40},{"w":8500,"f":0.83},{"w":8505,"f":0.34},{"w":8510,"f":0.32},{"w":8517,"f":0.32},{"w":8523,"f":0.32},{"w":8529,"f":0.33},{"w":8534,"f":0.45},{"w":8538,"f":0.33},{"w":8543,"f":0.60},{"w":8548,"f":0.32},{"w":8556,"f":0.32},{"w":8562,"f":0.33},{"w":8569,"f":0.32},{"w":8575,"f":0.34},{"w":8582,"f":0.37},{"w":8587,"f":0.35},{"w":8591,"f":0.42},{"w":8596,"f":0.35},{"w":8602,"f":0.37},{"w":8608,"f":0.60},{"w":8613,"f":0.83},{"w":8619,"f":1.3},{"w":8624,"f":1.3},{"w":8628,"f":1.3},{"w":8633,"f":0.72},{"w":8638,"f":0.43},{"w":8643,"f":0.83},{"w":8649,"f":1.3},{"w":8654,"f":0.92},{"w":8658,"f":0.87},{"w":8662,"f":0.83},{"w":8667,"f":0.68},{"w":8671,"f":0.57},{"w":8675,"f":0.43},{"w":8680,"f":0.38},{"w":8686,"f":0.40},{"w":8693,"f":0.385},{"w":8700,"f":0.37},{"w":8706,"f":0.34},{"w":8713,"f":0.33},{"w":8719,"f":0.34},{"w":8726,"f":0.32},{"w":8732,"f":0.34},
      {"w":8739,"f":0.35},{"w":8745,"f":0.34},{"w":8750,"f":1.3},{"w":8756,"f":1.3},{"w":8760,"f":1.3},{"w":8765,"f":0.50},{"w":8769,"f":1.3},{"w":8773,"f":1.3},{"w":8778,"f":0.35},{"w":8784,"f":0.76},{"w":8790,"f":0.34},{"w":8794,"f":0.33},{"w":8801,"f":0.34},{"w":8805,"f":0.40},{"w":8811,"f":0.33},{"w":8817,"f":1.3},{"w":8822,"f":1.3},{"w":8828,"f":0.69},{"w":8831,"f":1.3},{"w":8837,"f":0.36},{"w":8841,"f":0.49},{"w":8844,"f":0.68},{"w":8850,"f":0.37},{"w":8855,"f":0.34},{"w":8860,"f":1.3},{"w":8865,"f":0.37},{"w":8869,"f":0.34},{"w":8874,"f":1.3},{"w":8880,"f":0.37},{"w":8884,"f":1.3},{"w":8889,"f":0.37},{"w":8894,"f":0.40},{"w":8899,"f":1.3},{"w":8903,"f":0.37},{"w":8907,"f":0.40},{"w":8912,"f":1.3},{"w":8918,"f":0.43},{"w":8921,"f":0.385},{"w":8927,"f":0.37},{"w":8931,"f":0.43},{"w":8937,"f":1.3},{"w":8942,"f":0.36},{"w":8948,"f":1.3},{"w":8954,"f":0.37},{"w":8959,"f":0.385},{"w":8964,"f":0.42},{"w":8968,"f":0.385},{"w":8974,"f":0.41},{"w":8977,"f":0.44},{"w":8980,"f":1.3},{"w":8985,"f":0.41},{"w":8990,"f":0.40},{"w":8995,"f":1.3},{"w":9000,"f":0.41},{"w":9005,"f":0.385},{"w":9010,"f":0.39},{"w":9014,"f":0.40},{"w":9019,"f":0.39},{"w":9025,"f":0.385},{"w":9029,"f":0.40},{"w":9032,"f":0.63},{"w":9036,"f":0.41},{"w":9040,"f":0.40},{"w":9044,"f":0.85},{"w":9048,"f":0.41},{"w":9053,"f":0.38},{"w":9059,"f":0.40},{"w":9065,"f":0.41},{"w":9070,"f":0.37},{"w":9076,"f":0.37},{"w":9081,"f":0.40},{"w":9086,"f":0.52},{"w":9091,"f":0.41},{"w":9096,"f":0.64},{"w":9100,"f":0.44},{"w":9104,"f":0.36},{"w":9111,"f":0.36},{"w":9117,"f":0.36},{"w":9124,"f":0.36},{"w":9130,"f":0.38},{"w":9137,"f":0.385},{"w":9142,"f":0.45},{"w":9146,"f":0.51},{"w":9150,"f":0.44},{"w":9155,"f":0.53},{"w":9160,"f":0.385},{"w":9169,"f":0.39},{"w":9177,"f":0.385},{"w":9185,"f":0.38},{"w":9193,"f":0.385},{"w":9202,"f":0.40},{"w":9210,"f":0.49},{"w":9215,"f":0.45},{"w":9219,"f":0.52},{"w":9224,"f":0.41},{"w":9231,"f":0.40},{"w":9237,"f":0.41},{"w":9243,"f":0.45},{"w":9248,"f":0.44},{"w":9252,"f":0.40},{"w":9256,"f":0.45},{"w":9261,"f":0.41},{"w":9266,"f":0.40},{"w":9271,"f":0.43},{"w":9276,"f":0.44},{"w":9279,"f":0.53},{"w":9283,"f":0.49},{"w":9287,"f":0.56},{"w":9291,"f":0.49},{"w":9295,"f":0.545},{"w":9299,"f":0.50},{"w":9302,"f":0.50}
    ]
  },
  "encoding": {
    "x": {
      "field": "w", "type": "quantitative",
      "scale": {"domain": [4747, 9300], "nice": false, "zero": false},
      "axis": {"title": "Wavelength", "values": [5000, 6000, 7000, 8000, 9000], "format": "d", "labelFontSize": 28, "titleFontSize": 33, "titleFontWeight": "normal", "tickSize": 14, "tickWidth": 3, "labelPadding": 10, "titlePadding": 9, "domainWidth": 3}
    },
    "y": {
      "field": "f", "type": "quantitative",
      "scale": {"domain": [-0.823, 0.927], "nice": false, "zero": false},
      "axis": {"title": "10⁻¹⁸ erg s⁻¹ cm⁻² Å⁻¹", "values": [-0.8, -0.6, -0.4, -0.2, 0, 0.2, 0.4, 0.6, 0.8], "labelExpr": "replace(format(datum.value, '.1f'), '-', '−')", "labelFontSize": 34, "titleFontSize": 46, "titleFontWeight": "normal", "tickSize": 15, "tickWidth": 3, "labelPadding": 12, "titlePadding": 22, "domainWidth": 3}
    }
  },
  "layer": [
    {"data": {"name": "model"}, "mark": {"type": "line", "color": "#0000ff", "strokeWidth": 6, "clip": true}},
    {"data": {"name": "flux"}, "mark": {"type": "line", "color": "#000000", "strokeWidth": 4.5, "clip": true}},
    {"data": {"name": "sky"}, "mark": {"type": "line", "color": "#008000", "strokeWidth": 1.8, "clip": true}}
  ],
  "config": {
    "font": "DejaVu Sans",
    "view": {"stroke": "black", "strokeWidth": 3},
    "axis": {"grid": false, "domainColor": "black", "tickColor": "black", "labelColor": "black", "titleColor": "black", "labelFont": "DejaVu Sans", "titleFont": "DejaVu Sans"}
  }
}
